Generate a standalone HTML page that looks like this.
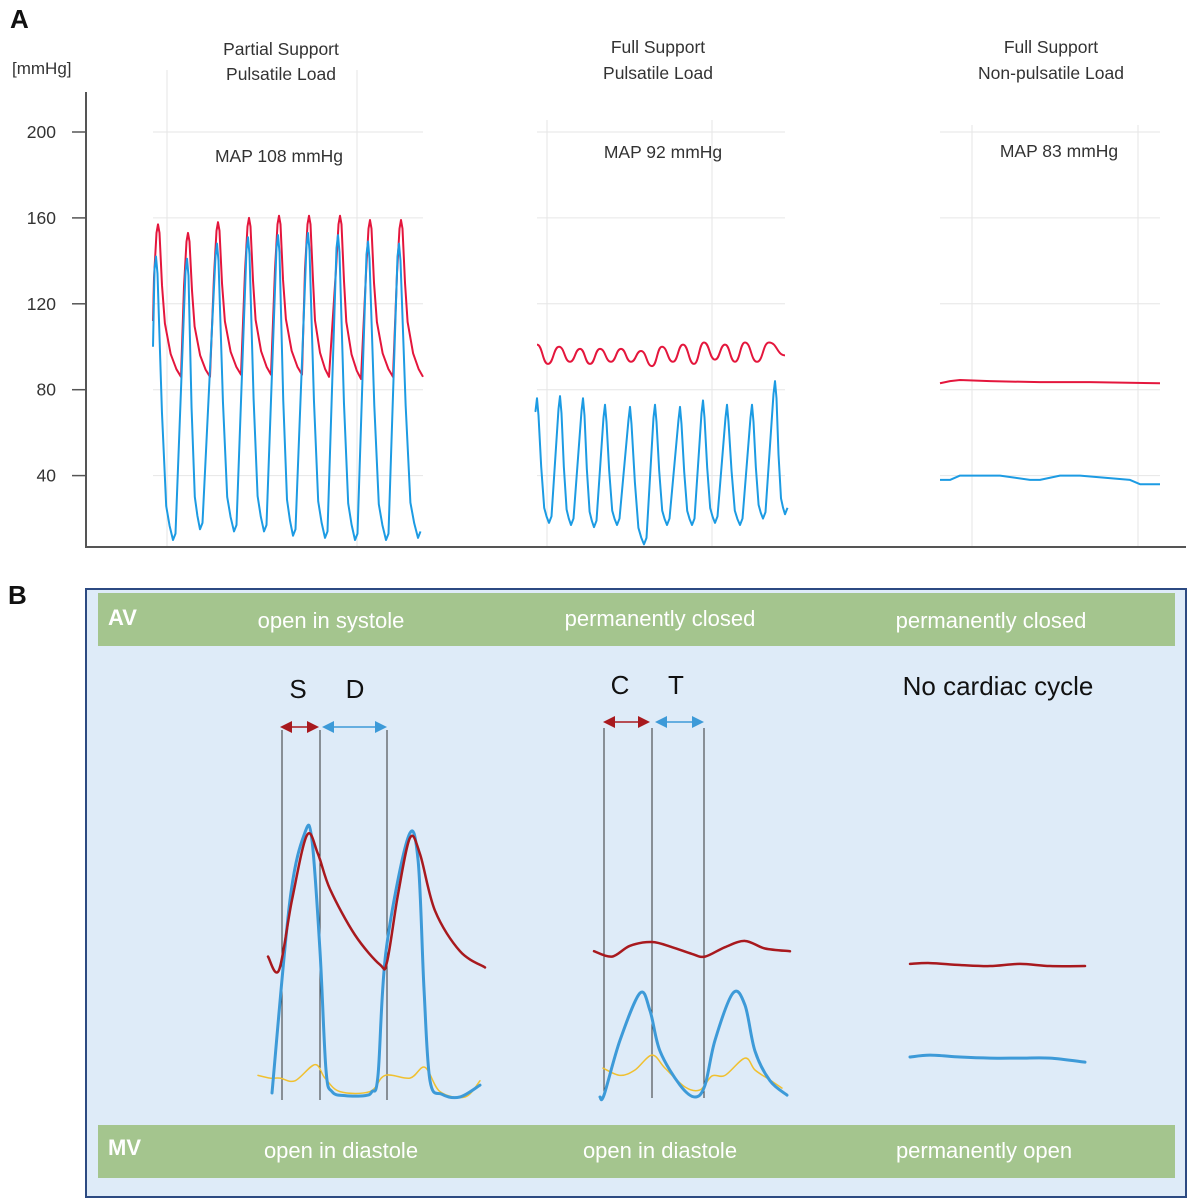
<!DOCTYPE html>
<html><head><meta charset="utf-8"><style>
html,body{margin:0;padding:0;background:#fff;}
svg{display:block;font-family:"Liberation Sans",sans-serif;}
</style></head><body>
<svg id="fig" width="1190" height="1200" viewBox="0 0 1190 1200">
<text x="10" y="28" font-size="26" font-weight="bold" fill="#111">A</text>
<text x="12" y="74" font-size="17" fill="#333">[mmHg]</text>
<g id="gridA"></g>
<line x1="86" y1="92" x2="86" y2="547" stroke="#555" stroke-width="2"/>
<line x1="85" y1="547" x2="1186" y2="547" stroke="#555" stroke-width="2"/>
<g id="ticksA"></g>
<g font-size="17.5" fill="#333" text-anchor="middle">
<text x="281" y="55">Partial Support</text>
<text x="281" y="80">Pulsatile Load</text>
<text x="279" y="162">MAP 108 mmHg</text>
<text x="658" y="53">Full Support</text>
<text x="658" y="79">Pulsatile Load</text>
<text x="663" y="158">MAP 92 mmHg</text>
<text x="1051" y="53">Full Support</text>
<text x="1051" y="79">Non-pulsatile Load</text>
<text x="1059" y="157">MAP 83 mmHg</text>
</g>
<g id="seriesA"></g>

<text x="8" y="604" font-size="26" font-weight="bold" fill="#111">B</text>
<rect x="86" y="589" width="1100" height="608" fill="#deebf8" stroke="#2c4a82" stroke-width="2"/>
<rect x="98" y="593" width="1077" height="53" fill="#a4c58e"/>
<rect x="98" y="1125" width="1077" height="53" fill="#a4c58e"/>
<g fill="#fff" font-size="22">
<text x="108" y="625" font-weight="bold">AV</text>
<text x="331" y="628" text-anchor="middle">open in systole</text>
<text x="660" y="626" text-anchor="middle">permanently closed</text>
<text x="991" y="628" text-anchor="middle">permanently closed</text>
<text x="108" y="1155" font-weight="bold">MV</text>
<text x="341" y="1158" text-anchor="middle">open in diastole</text>
<text x="660" y="1158" text-anchor="middle">open in diastole</text>
<text x="984" y="1158" text-anchor="middle">permanently open</text>
</g>
<g font-size="26" fill="#111" text-anchor="middle">
<text x="298" y="698">S</text>
<text x="355" y="698">D</text>
<text x="620" y="694">C</text>
<text x="676" y="694">T</text>
<text x="998" y="695">No cardiac cycle</text>
</g>
<g id="schem"></g>
</svg>
<script>
// ===== Panel A data =====
const yTicks = [200,160,120,80,40];
const p1RedPeakT = [5,35,65,96,126,156,187,217,248];
const p1RedPeakV = [157,153,158,160,161,161,161,159,159];
const p1RedTroughT = [28,57,88,118,149,176,208,240,270];
const p1RedTroughV = [86,86,87,87,87,86,85,86,86];
const p1BluePeakT = [3,34,64,95,125,155,185,215,246];
const p1BluePeakV = [142,141,148,151,152,153,152,149,148];
const p1BlueTroughT = [20,47,81,111,140,172,202,233,265];
const p1BlueTroughV = [10,15,14,14,12,11,10,10,11];
const p2RedPeakT = [0,22,43,63,84,104,125,146,167,188,208,232];
const p2RedPeakV = [101,100,99,99,99,98,100,101,102,101,102,102];
const p2RedTroughT = [11,33,53,74,94,115,136,157,178,198,220,248];
const p2RedTroughV = [92,93,92,93,93,91,93,92,94,93,93,96];
const p2BluePeakT = [0,23,46,68,93,118,143,166,190,215,238];
const p2BluePeakV = [76,77,76,73,72,73,72,75,73,73,84];
const p2BlueTroughT = [12,34,57,80,107,130,155,178,203,226,248];
const p2BlueTroughV = [18,17,16,17,8,17,17,18,17,20,22];
const p3RedT = [0,10,20,50,100,150,220];
const p3RedV = [83,84,84.5,84,83.5,83.5,83];
const p3BlueT = [0,10,20,40,60,90,100,120,140,190,200,220];
const p3BlueV = [38,38,40,40,40,38,38,40,40,38,36,36];

const NS='http://www.w3.org/2000/svg';
function mk(tag,attrs,parent){const e=document.createElementNS(NS,tag);for(const k in attrs)e.setAttribute(k,attrs[k]);parent.appendChild(e);return e;}
const yA = v => 132 + (200-v)*2.1475;
const panels=[{x0:153,x1:423,gy:70,v:[167,357]},{x0:537,x1:785,gy:120,v:[547,712]},{x0:940,x1:1160,gy:125,v:[972,1138]}];
const grid=document.getElementById('gridA'), ticks=document.getElementById('ticksA'), ser=document.getElementById('seriesA');
panels.forEach(p=>{
  yTicks.forEach(t=>{const l=mk('line',{x1:p.x0,x2:p.x1,y1:yA(t),y2:yA(t),stroke:'#e6e6e6','stroke-width':1},grid);
    
    });
  p.v.forEach(x=>{const l=mk('line',{x1:x,x2:x,y1:p.gy,y2:547,stroke:'#e6e6e6','stroke-width':1},grid);
    
    });
});
yTicks.forEach(t=>{
  const l=mk('line',{x1:72,x2:86,y1:yA(t),y2:yA(t),stroke:'#555','stroke-width':1.5},ticks);
  
  
  const tx=mk('text',{x:56,y:yA(t)+6,'font-size':17.5,fill:'#333','text-anchor':'end'},ticks);
  tx.textContent=t;
  
  
});
function redPulse(x0,startV,pT,pV,tT,tV){
  const P=(t,v)=>(x0+t)+','+yA(v);
  let pts=[P(0,startV)];
  for(let i=0;i<pT.length;i++){
    const tp=pT[i],vp=pV[i];
    pts.push(P(tp-4,vp-25),P(tp-1.5,vp-4),P(tp,vp),P(tp+1.5,vp-4));
    if(i<tT.length){const tt=tT[i],vt=tV[i],dv=vp-vt,dt=tt-tp;
      pts.push(P(tp+4,vt+dv*0.6),P(tp+dt*0.3,vt+dv*0.35),P(tp+dt*0.55,vt+dv*0.15),P(tp+dt*0.8,vt+dv*0.05),P(tt,vt));}
  }
  return 'M'+pts.join(' L');
}
function bluePulse(x0,startV,pT,pV,tT,tV){
  const P=(t,v)=>(x0+t)+','+yA(v);
  let pts=[P(0,startV)];
  for(let i=0;i<pT.length;i++){
    const tp=pT[i],vp=pV[i];
    pts.push(P(tp-1.5,vp-6),P(tp,vp),P(tp+1.5,vp-8));
    if(i<tT.length){const tt=tT[i],vt=tV[i],dv=vp-vt,dt=tt-tp;
      pts.push(P(tp+dt*0.35,vt+dv*0.45),P(tp+dt*0.6,vt+dv*0.12),P(tp+dt*0.8,vt+dv*0.05),P(tt,vt),P(tt+2.5,vt+3));}
  }
  return 'M'+pts.join(' L');
}
function sinePulse(x0,startV,pT,pV,tT,tV){
  const X=t=>x0+t;
  let d='M'+X(0)+','+yA(startV);
  let prevT=0,prevV=startV;
  for(let i=0;i<pT.length;i++){
    if(pT[i]>prevT){const m=(prevT+pT[i])/2;d+=' C'+X(m)+','+yA(prevV)+' '+X(m)+','+yA(pV[i])+' '+X(pT[i])+','+yA(pV[i]);}
    prevT=pT[i];prevV=pV[i];
    if(i<tT.length){const m=(prevT+tT[i])/2;d+=' C'+X(m)+','+yA(prevV)+' '+X(m)+','+yA(tV[i])+' '+X(tT[i])+','+yA(tV[i]);prevT=tT[i];prevV=tV[i];}
  }
  return d;
}
function addPath(d,color,name,w){const e=mk('path',{d:d,fill:'none',stroke:color,'stroke-width':w||2,'stroke-linejoin':'round'},ser);
  
  }
addPath(redPulse(153,112,p1RedPeakT,p1RedPeakV,p1RedTroughT,p1RedTroughV),'#e4163c','p1-aortic-pressure');
addPath(bluePulse(153,100,p1BluePeakT,p1BluePeakV,p1BlueTroughT,p1BlueTroughV),'#1c9be3','p1-lv-pressure');
addPath(sinePulse(537,101,p2RedPeakT,p2RedPeakV,p2RedTroughT,p2RedTroughV),'#e4163c','p2-aortic-pressure');
addPath(bluePulse(537,76,p2BluePeakT,p2BluePeakV,p2BlueTroughT,p2BlueTroughV),'#1c9be3','p2-lv-pressure');
addPath('M'+p3RedT.map((t,i)=>(940+t)+','+yA(p3RedV[i])).join(' L'),'#e4163c','p3-aortic-pressure');
addPath('M'+p3BlueT.map((t,i)=>(940+t)+','+yA(p3BlueV[i])).join(' L'),'#1c9be3','p3-lv-pressure');

// ===== Panel B schematic data (time units, relative pressure units) =====
const sL_lines=[282,320,387], sM_lines=[604,652,704];
const sL_redT=[268,279,292,307,318,330,355,380,387,398,410,420,435,460,485];
const sL_redV=[52,47,73,97,90,77,60,49,50,75,96,90,69,54,48];
const sL_blueT=[272,290,305,312,320,326,332,345,365,372,378,386,408,418,424,430,442,460,480];
const sL_blueV=[1.5,73,98,95,54,10,2,0.5,0.5,2,8,54,96,88,40,6,1,0,4.4];
const sL_yelT=[258,270,280,295,315,325,340,370,385,410,425,440,465,480];
const sL_yelV=[8,7,7,6,12,7,2,2,8,7,11,2,0,6];
const sM_redT=[594,612,630,652,672,692,705,725,745,765,790];
const sM_redV=[54,52,56,57.4,55.5,53,52,55.5,57.8,55,54];
const sM_blueT=[600,604,620,640,650,660,680,695,705,715,733,745,755,770,787];
const sM_blueV=[0,0.7,21,38.5,32,17,4.4,0,4.4,21,38.5,34,17,6,0.7];
const sM_yelT=[603,620,635,652,665,685,700,712,725,745,755,770,782];
const sM_yelV=[10.7,8,10,15.5,10.7,3.7,2.6,7.8,8,14.4,10,6.3,3.3];
const sR_redT=[910,930,960,990,1020,1050,1085];
const sR_redV=[49.3,49.6,48.9,48.5,49.3,48.5,48.5];
const sR_blueT=[910,930,960,990,1020,1050,1085];
const sR_blueV=[14.8,15.5,14.8,14.4,14.4,14.4,12.9];
const yB=v=>1097-v*2.7;
const sch=document.getElementById('schem');
function sLine(ts,vs,color,w,name){
  let d='M'+ts[0]+','+yB(vs[0]);
  for(let i=1;i<ts.length;i++){
    const p0=[ts[Math.max(i-2,0)],vs[Math.max(i-2,0)]],p1=[ts[i-1],vs[i-1]],p2=[ts[i],vs[i]],p3=[ts[Math.min(i+1,ts.length-1)],vs[Math.min(i+1,ts.length-1)]];
    const c1x=p1[0]+(p2[0]-p0[0])/6,c1v=p1[1]+(p2[1]-p0[1])/6,c2x=p2[0]-(p3[0]-p1[0])/6,c2v=p2[1]-(p3[1]-p1[1])/6;
    d+=' C'+c1x+','+yB(c1v)+' '+c2x+','+yB(c2v)+' '+p2[0]+','+yB(p2[1]);
  }
  const e=mk('path',{d:d,fill:'none',stroke:color,'stroke-width':w,'stroke-linecap':'round','stroke-linejoin':'round'},sch);
  
  
}
[[sL_lines,730,1100],[sM_lines,728,1098]].forEach(g=>g[0].forEach(x=>{
  const l=mk('line',{x1:x,x2:x,y1:g[1],y2:g[2],stroke:'#333','stroke-width':1},sch);
  
  }));
function arrow(x1,x2,y,color,name){
  const g=mk('g',{},sch);
  
  
  mk('line',{x1:x1+8,x2:x2-8,y1:y,y2:y,stroke:color,'stroke-width':1.5},g);
  mk('polygon',{points:x1+','+y+' '+(x1+12)+','+(y-6)+' '+(x1+12)+','+(y+6),fill:color},g);
  mk('polygon',{points:x2+','+y+' '+(x2-12)+','+(y-6)+' '+(x2-12)+','+(y+6),fill:color},g);
}
arrow(280,319,727,'#a8191e','systole-arrow');
arrow(322,387,727,'#3d9ad8','diastole-arrow');
arrow(603,650,722,'#a8191e','c-arrow');
arrow(655,704,722,'#3d9ad8','t-arrow');
sLine(sL_yelT,sL_yelV,'#f0c030',1.5,'partial-la-pressure');
sLine(sL_blueT,sL_blueV,'#3d9ad8',3,'partial-lv-pressure');
sLine(sL_redT,sL_redV,'#a8191e',2.5,'partial-aortic-pressure');
sLine(sM_yelT,sM_yelV,'#f0c030',1.5,'full-la-pressure');
sLine(sM_blueT,sM_blueV,'#3d9ad8',3,'full-lv-pressure');
sLine(sM_redT,sM_redV,'#a8191e',2.5,'full-aortic-pressure');
sLine(sR_redT,sR_redV,'#a8191e',2.5,'nonpulsatile-aortic-pressure');
sLine(sR_blueT,sR_blueV,'#3d9ad8',3,'nonpulsatile-lv-pressure');
</script>
</body></html>
